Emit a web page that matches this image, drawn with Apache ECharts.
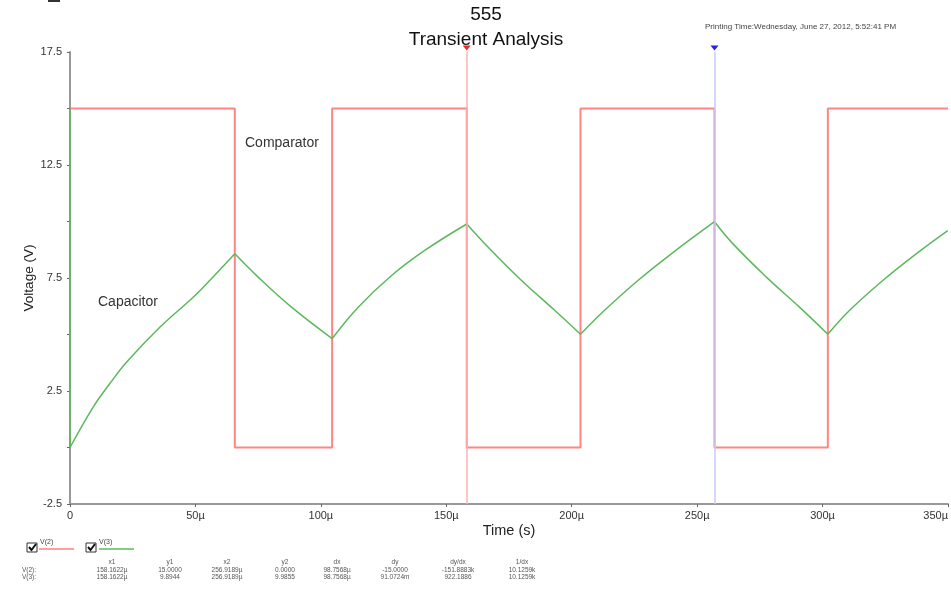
<!DOCTYPE html>
<html>
<head>
<meta charset="utf-8">
<script src="https://cdn.jsdelivr.net/npm/echarts@6/dist/echarts.min.js"></script>
<style>
html, body { margin: 0; padding: 0; background: #fff; }
#main { width: 951px; height: 589px; }
</style>
</head>
<body>
<div id="main"></div>
<script>
// time in microseconds, voltage in volts
var capTime = [0, 0, 9.3, 15.9, 22.6, 35.9, 49.1, 55.8, 65.7,
    75.0, 88.3, 104.5, 114.9, 128.2, 141.4, 158.16,
    166.7, 180.0, 193.2, 203.5, 213.1, 226.4, 239.7, 256.92,
    264.3, 277.6, 290.8, 302.1, 310.8, 324.0, 337.3, 349.9];
var capVolt = [15, 0, 1.80, 2.83, 3.78, 5.33, 6.65, 7.40, 8.57,
    7.54, 6.21, 4.82, 6.21, 7.61, 8.72, 9.89,
    8.86, 7.39, 6.07, 5.01, 6.07, 7.39, 8.57, 9.99,
    9.01, 7.54, 6.21, 5.01, 6.07, 7.39, 8.57, 9.60];

var cmpTime = [0, 65.7, 65.7, 104.5, 104.5, 158.16, 158.16, 203.5, 203.5, 256.92, 256.92, 302.1, 302.1, 350];
var cmpVolt = [15, 15, 0, 0, 15, 15, 0, 0, 15, 15, 0, 0, 15, 15];

var cursorX = [158.1622, 256.9189];

var tableHead = ['x1', 'y1', 'x2', 'y2', 'dx', 'dy', 'dy/dx', '1/dx'];
var rowV2 = ['158.1622µ', '15.0000', '256.9189µ', '0.0000', '98.7568µ', '-15.0000', '-151.8883k', '10.1259k'];
var rowV3 = ['158.1622µ', '9.8944', '256.9189µ', '9.9855', '98.7568µ', '91.0724m', '922.1886', '10.1259k'];

function zip(a, b) {
    var out = [];
    for (var i = 0; i < a.length; i++) out.push([a[i], b[i]]);
    return out;
}

// split the capacitor trace at each turning point so every charge and
// discharge run is smoothed on its own and the corners stay sharp
function capData() {
    var out = [];
    for (var i = 0; i < capTime.length; i++) {
        out.push([capTime[i], capVolt[i]]);
        if (i > 0 && i < capTime.length - 1) {
            var d1 = capVolt[i] - capVolt[i - 1];
            var d2 = capVolt[i + 1] - capVolt[i];
            if (d1 * d2 < 0) {
                out.push([capTime[i], '-']);
                out.push([capTime[i], capVolt[i]]);
            }
        }
    }
    return out;
}

var myChart = echarts.init(document.getElementById('main'));
var font = 'Liberation Sans, Arial, sans-serif';

var colX = [112, 170, 227, 285, 337, 395, 458, 522];
var graphics = [
    {type: 'text', x: 486, y: 15,
        style: {text: '555', font: '19px ' + font, fill: '#111', align: 'center', verticalAlign: 'middle'}},
    {type: 'text', x: 486, y: 40,
        style: {text: 'Transient Analysis', font: '19px ' + font, fill: '#111', align: 'center', verticalAlign: 'middle'}},
    {type: 'text', x: 705, y: 27,
        style: {text: 'Printing Time:Wednesday, June 27, 2012, 5:52:41 PM', font: '8px ' + font, fill: '#444', align: 'left', verticalAlign: 'middle'}},
    {type: 'text', x: 245, y: 143,
        style: {text: 'Comparator', font: '14px ' + font, fill: '#333', align: 'left', verticalAlign: 'middle'}},
    {type: 'text', x: 98, y: 302,
        style: {text: 'Capacitor', font: '14px ' + font, fill: '#333', align: 'left', verticalAlign: 'middle'}},
    {type: 'line', shape: {x1: 48, y1: 1, x2: 60, y2: 1}, style: {stroke: '#333', lineWidth: 2}},
    // legend checkboxes
    {type: 'rect', shape: {x: 27, y: 543, width: 10, height: 9}, style: {fill: '#fff', stroke: '#333', lineWidth: 1}},
    {type: 'polyline', shape: {points: [[29, 547], [31.5, 550], [36, 544]]}, style: {stroke: '#111', lineWidth: 2, fill: null}},
    {type: 'text', x: 40, y: 542, style: {text: 'V(2)', font: '7px ' + font, fill: '#444', verticalAlign: 'middle'}},
    {type: 'line', shape: {x1: 39, y1: 549, x2: 74, y2: 549}, style: {stroke: '#ff8080', lineWidth: 1.5}},
    {type: 'rect', shape: {x: 86, y: 543, width: 10, height: 9}, style: {fill: '#fff', stroke: '#333', lineWidth: 1}},
    {type: 'polyline', shape: {points: [[88, 547], [90.5, 550], [95, 544]]}, style: {stroke: '#111', lineWidth: 2, fill: null}},
    {type: 'text', x: 99, y: 542, style: {text: 'V(3)', font: '7px ' + font, fill: '#444', verticalAlign: 'middle'}},
    {type: 'line', shape: {x1: 99, y1: 549, x2: 134, y2: 549}, style: {stroke: '#5cb85c', lineWidth: 1.5}},
    {type: 'text', x: 22, y: 570, style: {text: 'V(2):', font: '6.5px ' + font, fill: '#555', verticalAlign: 'middle'}},
    {type: 'text', x: 22, y: 577, style: {text: 'V(3):', font: '6.5px ' + font, fill: '#555', verticalAlign: 'middle'}}
];
for (var i = 0; i < tableHead.length; i++) {
    graphics.push({type: 'text', x: colX[i], y: 562, style: {text: tableHead[i], font: '6.5px ' + font, fill: '#555', align: 'center', verticalAlign: 'middle'}});
    graphics.push({type: 'text', x: colX[i], y: 570, style: {text: rowV2[i], font: '6.5px ' + font, fill: '#555', align: 'center', verticalAlign: 'middle'}});
    graphics.push({type: 'text', x: colX[i], y: 577, style: {text: rowV3[i], font: '6.5px ' + font, fill: '#555', align: 'center', verticalAlign: 'middle'}});
}

option = {
    animation: false,
    backgroundColor: '#fff',
    textStyle: {fontFamily: font},
    grid: {left: 70, right: 3, top: 52, bottom: 85, outerBoundsMode: 'none'},
    xAxis: {
        type: 'value',
        min: 0,
        max: 350,
        interval: 50,
        name: 'Time (s)',
        nameLocation: 'middle',
        nameGap: 19,
        nameMoveOverlap: false,
        nameTextStyle: {fontSize: 14.5, color: '#222'},
        axisLine: {onZero: false, lineStyle: {color: '#999', width: 2}},
        axisTick: {length: 3, lineStyle: {color: '#666'}},
        axisLabel: {
            fontSize: 11, color: '#333', margin: 6, hideOverlap: false,
            alignMaxLabel: 'right',
            formatter: function (v) { return v === 0 ? '0' : v + 'µ'; }
        },
        splitLine: {show: false}
    },
    yAxis: {
        type: 'value',
        min: -2.5,
        max: 17.5,
        interval: 2.5,
        name: 'Voltage (V)',
        nameLocation: 'middle',
        nameGap: 34,
        nameMoveOverlap: false,
        nameTextStyle: {fontSize: 13.5, color: '#222'},
        axisLine: {show: true, lineStyle: {color: '#999', width: 2}},
        axisTick: {show: true, length: 3, lineStyle: {color: '#666'}},
        axisLabel: {
            fontSize: 11, color: '#333', margin: 8,
            formatter: function (v) {
                return (Math.round((v + 2.5) / 2.5) % 2 === 0) ? String(v) : '';
            }
        },
        splitLine: {show: false}
    },
    series: [{
        name: 'V(2)',
        type: 'line',
        data: zip(cmpTime, cmpVolt),
        showSymbol: false,
        lineStyle: {color: '#ff8585', width: 2},
        itemStyle: {color: '#ff8585'},
        z: 2,
        markLine: {
            silent: true,
            symbol: 'none',
            label: {show: false},
            lineStyle: {type: 'solid', width: 1.5},
            data: [
                {xAxis: cursorX[0], lineStyle: {color: '#ffb0b0', width: 1.5, type: 'solid'}},
                {xAxis: cursorX[1], lineStyle: {color: '#c8c8ff', width: 1.5, type: 'solid'}}
            ]
        },
        markPoint: {
            silent: true,
            symbol: 'triangle',
            symbolRotate: 180,
            symbolSize: [8, 5],
            symbolOffset: [0, -4],
            label: {show: false},
            data: [
                {coord: [cursorX[0], 17.5], itemStyle: {color: '#ff2020'}},
                {coord: [cursorX[1], 17.5], itemStyle: {color: '#2020ff'}}
            ]
        }
    }, {
        name: 'V(3)',
        type: 'line',
        data: capData(),
        showSymbol: false,
        smooth: 0.4,
        connectNulls: false,
        lineStyle: {color: '#5cb85c', width: 1.5},
        itemStyle: {color: '#5cb85c'},
        z: 3
    }],
    graphic: graphics
};
myChart.setOption(option);
</script>
</body>
</html>
